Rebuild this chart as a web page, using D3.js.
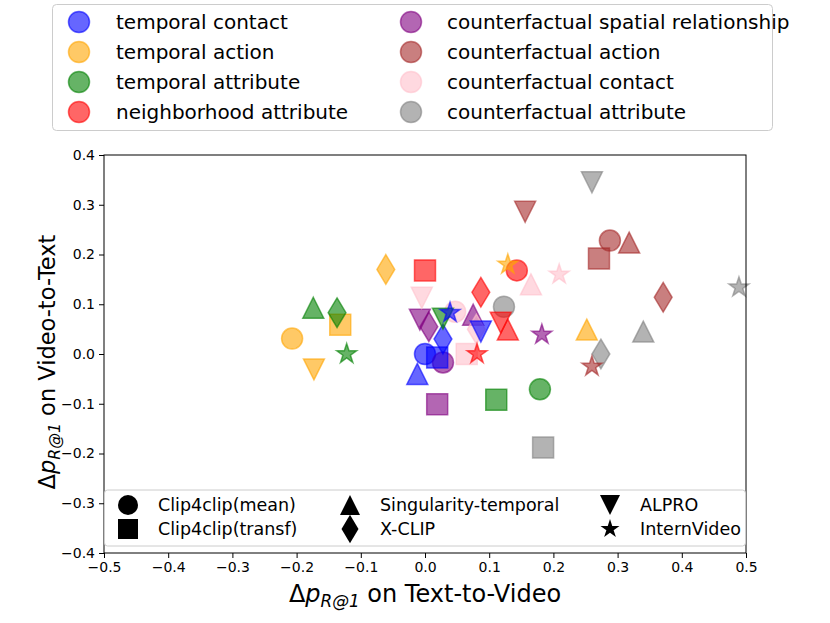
<!DOCTYPE html>
<html><head><meta charset="utf-8">
<script src="https://cdn.jsdelivr.net/npm/d3@7/dist/d3.min.js"></script>
<style>body{margin:0;background:#fff}svg{display:block;font-family:"DejaVu Sans",sans-serif}</style>
</head><body><svg id="c" width="830" height="623"></svg>
<script>
const categories = ["temporal contact","temporal action","temporal attribute","neighborhood attribute",
  "counterfactual spatial relationship","counterfactual action","counterfactual contact","counterfactual attribute"];
const categoryColors = ["blue","orange","green","red","purple","brown","pink","gray"];
const models = ["Clip4clip(mean)","Clip4clip(transf)","Singularity-temporal","X-CLIP","ALPRO","InternVideo"];
const modelMarkers = ["circle","square","triangleUp","thinDiamond","triangleDown","star"];
// legend order (column-major, 3 columns x 2 rows)
const modelLegendOrder = [0,1,2,3,4,5];
const xTicks = [-0.5,-0.4,-0.3,-0.2,-0.1,0.0,0.1,0.2,0.3,0.4,0.5];
const yTicks = [-0.4,-0.3,-0.2,-0.1,0.0,0.1,0.2,0.3,0.4];
// Δp R@1 text-to-video (x) and video-to-text (y), per category, in model order
const tempContactX = [0.000, 0.019, -0.012, 0.028, 0.087, 0.039];
const tempContactY = [0.000, -0.007, -0.040, 0.030, 0.045, 0.083];
const tempActionX = [-0.207, -0.132, 0.252, -0.061, -0.173, 0.129];
const tempActionY = [0.031, 0.059, 0.049, 0.170, -0.031, 0.180];
const tempAttrX = [0.179, 0.111, -0.174, -0.137, 0.028, -0.122];
const tempAttrY = [-0.071, -0.092, 0.093, 0.083, 0.071, 0.000];
const neighAttrX = [0.143, 0.000, 0.129, 0.087, 0.118, 0.081];
const neighAttrY = [0.168, 0.168, 0.049, 0.124, 0.063, 0.000];
const cfSpatialX = [0.028, 0.019, 0.075, 0.006, -0.008, 0.182];
const cfSpatialY = [-0.017, -0.101, 0.079, 0.055, 0.069, 0.039];
const cfActionX = [0.288, 0.271, 0.318, 0.371, 0.156, 0.260];
const cfActionY = [0.228, 0.192, 0.224, 0.114, 0.286, -0.025];
const cfContactX = [0.047, 0.065, 0.165, 0.080, -0.005, 0.209];
const cfContactY = [0.085, 0.000, 0.140, 0.050, 0.113, 0.160];
const cfAttrX = [0.123, 0.184, 0.340, 0.274, 0.260, 0.489];
const cfAttrY = [0.095, -0.188, 0.045, 0.000, 0.345, 0.134];

const seriesX = [tempContactX,tempActionX,tempAttrX,neighAttrX,cfSpatialX,cfActionX,cfContactX,cfAttrX];
const seriesY = [tempContactY,tempActionY,tempAttrY,neighAttrY,cfSpatialY,cfActionY,cfContactY,cfAttrY];

const svg = d3.select("#c");
const L=104, R=746, T=155, B=553;
const x = d3.scaleLinear().domain([-0.5,0.5]).range([L,R]);
const y = d3.scaleLinear().domain([-0.4,0.4]).range([B,T]);
const S = 21;

function markerPath(type, s){
  const h=s/2;
  switch(type){
    case "circle": return d3.symbol(d3.symbolCircle, Math.PI*h*h)();
    case "square": return `M${-h},${-h}H${h}V${h}H${-h}Z`;
    case "triangleUp": return `M0,${-h}L${h},${h}L${-h},${h}Z`;
    case "triangleDown": return `M0,${h}L${h},${-h}L${-h},${-h}Z`;
    case "thinDiamond": { const dy=h*Math.SQRT2, dx=0.6*dy; return `M0,${-dy}L${dx},0L0,${dy}L${-dx},0Z`; }
    case "star": { const ro=h*1.0, ri=ro*0.381966; let p=[];
      for(let i=0;i<10;i++){ const r=i%2?ri:ro; const a=-Math.PI/2+i*Math.PI/5; p.push([r*Math.cos(a), r*Math.sin(a)]); }
      return "M"+p.map(q=>q[0].toFixed(2)+","+q[1].toFixed(2)).join("L")+"Z"; }
  }
}

// axes
const xAxis = d3.axisBottom(x).tickValues(xTicks).tickFormat(d3.format(".1f")).tickSize(5).tickPadding(4);
const yAxis = d3.axisLeft(y).tickValues(yTicks).tickFormat(d3.format(".1f")).tickSize(5).tickPadding(4);
const gx = svg.append("g").attr("transform",`translate(0,${B})`).call(xAxis);
const gy = svg.append("g").attr("transform",`translate(${L},0)`).call(yAxis);
[gx,gy].forEach(g=>{ g.select(".domain").remove(); g.selectAll("text").attr("font-size",14).attr("fill","#000").attr("font-family","DejaVu Sans"); g.selectAll("line").attr("stroke","#000"); });

// points: outer loop models, inner categories
const pts = svg.append("g");
models.forEach((m,mi)=>{
  categories.forEach((c,ci)=>{
    pts.append("path").attr("d", markerPath(modelMarkers[mi], S))
      .attr("transform",`translate(${x(seriesX[ci][mi])},${y(seriesY[ci][mi])})`)
      .attr("fill",categoryColors[ci]).attr("fill-opacity",0.6)
      .attr("stroke",categoryColors[ci]).attr("stroke-opacity",0.6).attr("stroke-width",1.5);
  });
});

// frame
svg.append("rect").attr("x",L).attr("y",T).attr("width",R-L).attr("height",B-T).attr("fill","none").attr("stroke","#000").attr("stroke-width",1);

// bottom (model) legend
const lg = svg.append("g");
lg.append("rect").attr("x",L+0.5).attr("y",490).attr("width",R-L-1).attr("height",56).attr("rx",3)
  .attr("fill","#fff").attr("fill-opacity",0.8).attr("stroke","#cccccc");
const colMX=[128,350,610], colTX=[158,380,640], rowY=[505,529];
modelLegendOrder.forEach((mi,k)=>{
  const col=Math.floor(k/2), row=k%2;
  lg.append("path").attr("d",markerPath(modelMarkers[mi], 20)).attr("transform",`translate(${colMX[col]},${rowY[row]})`).attr("fill","#000");
  lg.append("text").attr("x",colTX[col]).attr("y",rowY[row]).attr("dy","0.35em").attr("font-size",17.5).text(models[mi]);
});

// top (category) legend
const tg = svg.append("g");
tg.append("rect").attr("x",52.5).attr("y",4.5).attr("width",720).attr("height",126).attr("rx",4)
  .attr("fill","#fff").attr("stroke","#cccccc");
categories.forEach((c,i)=>{
  const col=Math.floor(i/4), row=i%4;
  const mx=[79,411][col], tx=[116,447][col], yy=22+row*30;
  tg.append("circle").attr("cx",mx).attr("cy",yy).attr("r",10.5).attr("fill",categoryColors[i]).attr("fill-opacity",0.6)
    .attr("stroke",categoryColors[i]).attr("stroke-opacity",0.6).attr("stroke-width",1.5);
  tg.append("text").attr("x",tx).attr("y",yy).attr("dy","0.35em").attr("font-size",20).text(c);
});

// axis labels
function dpLabel(sel, rest){
  sel.append("tspan").text("Δ");
  sel.append("tspan").attr("font-style","italic").text("p");
  sel.append("tspan").attr("font-style","italic").attr("font-size","0.7em").attr("dy","0.3em").text("R@1");
  sel.append("tspan").attr("dy","-0.21em").text(" "+rest);
}
const xl = svg.append("text").attr("x",(L+R)/2).attr("y",602).attr("text-anchor","middle").attr("font-size",24);
dpLabel(xl,"on Text-to-Video");
const yl = svg.append("text").attr("transform",`translate(55,${(T+B)/2+8}) rotate(-90)`).attr("text-anchor","middle").attr("font-size",22.5);
dpLabel(yl,"on Video-to-Text");
</script></body></html>
